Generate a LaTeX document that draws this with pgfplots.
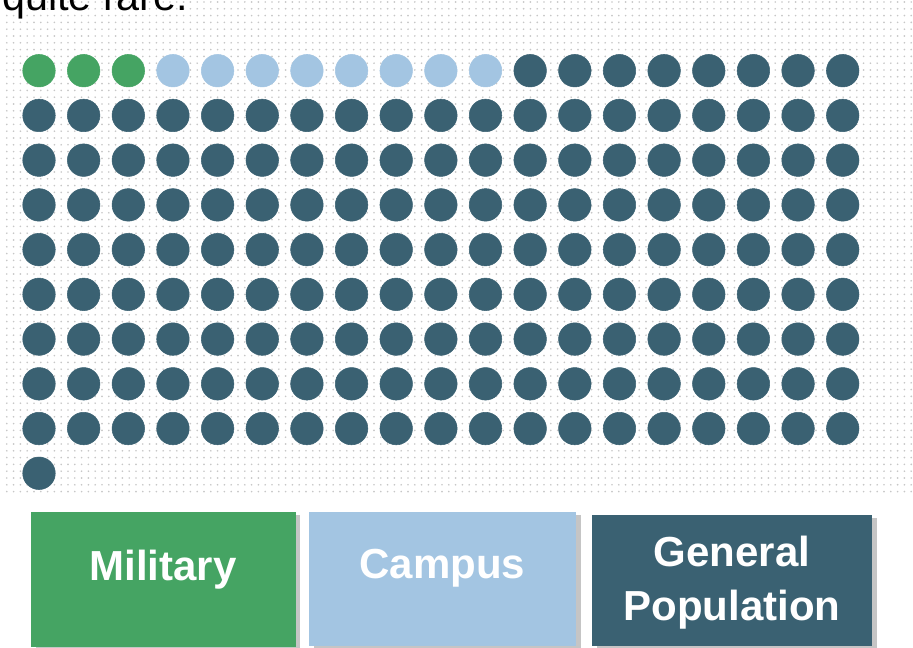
\documentclass[border=0pt]{standalone}
\usepackage{pgfplots}
\pgfplotsset{compat=1.18}
\usepackage{fontspec}
\setmainfont{Liberation Sans}
\usetikzlibrary{patterns.meta,shadows}
\definecolor{milgreen}{HTML}{45A463}
\definecolor{campblue}{HTML}{A3C5E2}
\definecolor{gendark}{HTML}{3A6172}
\begin{document}
\begin{tikzpicture}
\begin{axis}[
  scale only axis, width=684.75pt, height=486pt,
  xmin=-0.8735, xmax=19.574, ymin=-1.5806, ymax=12.906,
  y dir=reverse, hide axis, clip=false]
% background dotted paper
\fill[pattern={Dots[distance=5.1pt, radius=0.7pt]}, pattern color=black!22]
  (rel axis cs:0.004,1) rectangle (rel axis cs:1,0.236);
% cut-off text at top
\node[anchor=base west, inner sep=0pt, font=\fontsize{31pt}{36pt}\selectfont]
  at (rel axis cs:0.002,0.9845) {quite rare.};
% Military
\addplot[only marks, mark=*, mark size=12.2pt, color=milgreen, mark options={draw=milgreen, fill=milgreen}]
  coordinates {(0,0) (1,0) (2,0)};
% Campus
\addplot[only marks, mark=*, mark size=12.2pt, color=campblue, mark options={draw=campblue, fill=campblue}]
  coordinates {(3,0) (4,0) (5,0) (6,0) (7,0) (8,0) (9,0) (10,0)};
% General population
\addplot[only marks, mark=*, mark size=12.2pt, color=gendark, mark options={draw=gendark, fill=gendark}]
  coordinates {
  (11,0) (12,0) (13,0) (14,0) (15,0) (16,0) (17,0) (18,0)
  (0,1) (1,1) (2,1) (3,1) (4,1) (5,1) (6,1) (7,1) (8,1) (9,1) (10,1) (11,1) (12,1) (13,1) (14,1) (15,1) (16,1) (17,1) (18,1)
  (0,2) (1,2) (2,2) (3,2) (4,2) (5,2) (6,2) (7,2) (8,2) (9,2) (10,2) (11,2) (12,2) (13,2) (14,2) (15,2) (16,2) (17,2) (18,2)
  (0,3) (1,3) (2,3) (3,3) (4,3) (5,3) (6,3) (7,3) (8,3) (9,3) (10,3) (11,3) (12,3) (13,3) (14,3) (15,3) (16,3) (17,3) (18,3)
  (0,4) (1,4) (2,4) (3,4) (4,4) (5,4) (6,4) (7,4) (8,4) (9,4) (10,4) (11,4) (12,4) (13,4) (14,4) (15,4) (16,4) (17,4) (18,4)
  (0,5) (1,5) (2,5) (3,5) (4,5) (5,5) (6,5) (7,5) (8,5) (9,5) (10,5) (11,5) (12,5) (13,5) (14,5) (15,5) (16,5) (17,5) (18,5)
  (0,6) (1,6) (2,6) (3,6) (4,6) (5,6) (6,6) (7,6) (8,6) (9,6) (10,6) (11,6) (12,6) (13,6) (14,6) (15,6) (16,6) (17,6) (18,6)
  (0,7) (1,7) (2,7) (3,7) (4,7) (5,7) (6,7) (7,7) (8,7) (9,7) (10,7) (11,7) (12,7) (13,7) (14,7) (15,7) (16,7) (17,7) (18,7)
  (0,8) (1,8) (2,8) (3,8) (4,8) (5,8) (6,8) (7,8) (8,8) (9,8) (10,8) (11,8) (12,8) (13,8) (14,8) (15,8) (16,8) (17,8) (18,8)
  (0,9)};
% legend boxes
\fill[milgreen, drop shadow={shadow xshift=3.5pt, shadow yshift=-2.5pt, fill=black!45, opacity=0.5}]
  (rel axis cs:0.034,0.210) rectangle (rel axis cs:0.324,0.0015);
\fill[campblue, drop shadow={shadow xshift=3.5pt, shadow yshift=-2.5pt, fill=black!45, opacity=0.5}]
  (rel axis cs:0.3385,0.210) rectangle (rel axis cs:0.631,0.003);
\fill[gendark, drop shadow={shadow xshift=3.5pt, shadow yshift=-2.5pt, fill=black!45, opacity=0.5}]
  (rel axis cs:0.6485,0.2052) rectangle (rel axis cs:0.955,0.003);
\node[anchor=base, text=white, inner sep=0pt, font=\bfseries\fontsize{31.5pt}{38pt}\selectfont]
  at (rel axis cs:0.1785,0.1049) {Military};
\node[anchor=base, text=white, inner sep=0pt, font=\bfseries\fontsize{31.5pt}{38pt}\selectfont]
  at (rel axis cs:0.4845,0.1065) {Campus};
\node[anchor=base, text=white, inner sep=0pt, font=\bfseries\fontsize{31.5pt}{38pt}\selectfont]
  at (rel axis cs:0.8018,0.1265) {General};
\node[anchor=base, text=white, inner sep=0pt, font=\bfseries\fontsize{31.5pt}{38pt}\selectfont]
  at (rel axis cs:0.8018,0.0417) {Population};
\end{axis}
\pgfresetboundingbox
\useasboundingbox (current axis.south west) rectangle (current axis.north east);
\end{tikzpicture}
\end{document}
